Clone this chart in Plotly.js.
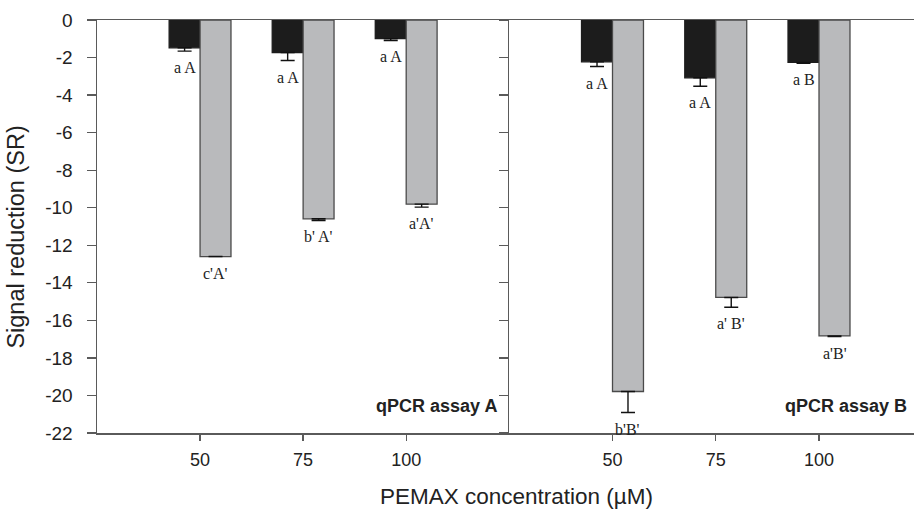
<!DOCTYPE html>
<html>
<head>
<meta charset="utf-8">
<script src="https://cdn.plot.ly/plotly-3.0.1.min.js"></script>
<style>html,body{margin:0;padding:0;background:#fff;}#chart{width:914px;height:514px;}</style>
</head>
<body>
<div id="chart"></div>
<script>
// ---- data ----
const concentrations = ['50', '75', '100'];
// qPCR assay A
const assayA_black = [-1.48, -1.73, -0.99];
const assayA_black_err = [0.18, 0.43, 0.10];
const assayA_gray = [-12.6, -10.59, -9.81];
const assayA_gray_err = [0.0, 0.09, 0.16];
const assayA_black_labels = ['a A', 'a A', 'a A'];
const assayA_gray_labels = ["c'A'", "b' A'", "a'A'"];
// qPCR assay B
const assayB_black = [-2.23, -3.08, -2.26];
const assayB_black_err = [0.25, 0.45, 0.05];
const assayB_gray = [-19.79, -14.78, -16.83];
const assayB_gray_err = [1.12, 0.52, 0.03];
const assayB_black_labels = ['a A', 'a A', 'a B'];
const assayB_gray_labels = ["b'B'", "a' B'", "a'B'"];
const panelLabels = ['qPCR assay A', 'qPCR assay B'];
const yTickVals = [0, -2, -4, -6, -8, -10, -12, -14, -16, -18, -20, -22];
const yTickText = ['0', '-2', '-4', '-6', '-8', '-10', '-12', '-14', '-16', '-18', '-20', '-22'];
const yTitle = 'Signal reduction (SR)';
const xTitle = 'PEMAX concentration (\u00b5M)';

// ---- styling ----
const BLACK = '#1c1c1c';
const GRAY = '#b9babc';
const AXIS = '#5a5a5a';

function barTrace(vals, errs, color, lineColor, xa, ya) {
  return {
    type: 'bar', x: concentrations, y: vals, xaxis: xa, yaxis: ya,
    marker: {color: color, line: {color: lineColor, width: 1.3}},
    error_y: {type: 'data', symmetric: false, array: vals.map(() => 0), arrayminus: errs,
              color: '#111', thickness: 1.4, width: 7},
    showlegend: false, hoverinfo: 'skip'
  };
}

const traces = [
  barTrace(assayA_black, assayA_black_err, BLACK, BLACK, 'x', 'y'),
  barTrace(assayA_gray, assayA_gray_err, GRAY, '#4a4a4a', 'x', 'y'),
  barTrace(assayB_black, assayB_black_err, BLACK, BLACK, 'x2', 'y2'),
  barTrace(assayB_gray, assayB_gray_err, GRAY, '#4a4a4a', 'x2', 'y2')
];

const annotations = [];
function addLabels(vals, errs, labels, xref, yref, shift) {
  vals.forEach((v, i) => {
    annotations.push({
      xref: xref, yref: yref, x: i, y: v - errs[i], xshift: shift, yshift: -6,
      text: labels[i], showarrow: false, xanchor: 'center', yanchor: 'top',
      font: {family: 'Liberation Serif, Times New Roman, serif', size: 16, color: '#222'}
    });
  });
}
addLabels(assayA_black, assayA_black_err, assayA_black_labels, 'x', 'y', -15.5);
addLabels(assayA_gray, assayA_gray_err, assayA_gray_labels, 'x', 'y', 15.5);
addLabels(assayB_black, assayB_black_err, assayB_black_labels, 'x2', 'y2', -15.5);
addLabels(assayB_gray, assayB_gray_err, assayB_gray_labels, 'x2', 'y2', 15.5);

annotations.push({xref: 'x domain', yref: 'y domain', x: 1, y: 0, xanchor: 'right', yanchor: 'middle',
  xshift: -10, yshift: 27, text: '<b>' + panelLabels[0] + '</b>', showarrow: false,
  font: {family: 'Liberation Sans, Arial, sans-serif', size: 18, color: '#222'}});
annotations.push({xref: 'x2 domain', yref: 'y2 domain', x: 1, y: 0, xanchor: 'right', yanchor: 'middle',
  xshift: -5, yshift: 27, text: '<b>' + panelLabels[1] + '</b>', showarrow: false,
  font: {family: 'Liberation Sans, Arial, sans-serif', size: 18, color: '#222'}});
annotations.push({xref: 'paper', yref: 'paper', x: -0.0996, y: 0.4746, xanchor: 'center', yanchor: 'middle',
  textangle: -90, text: yTitle, showarrow: false,
  font: {family: 'Liberation Sans, Arial, sans-serif', size: 23.5, color: '#222'}});
annotations.push({xref: 'paper', yref: 'paper', x: 0.513, y: -0.1534, xanchor: 'center', yanchor: 'middle',
  text: xTitle, showarrow: false,
  font: {family: 'Liberation Sans, Arial, sans-serif', size: 22.5, color: '#222'}});

const tickFont = {family: 'Liberation Sans, Arial, sans-serif', size: 18, color: '#222'};
const xCommon = {
  type: 'category', showline: true, linecolor: AXIS, linewidth: 1.5, mirror: true,
  ticks: 'outside', ticklen: 6, tickwidth: 1.3, tickcolor: AXIS, tickfont: tickFont,
  showgrid: false, zeroline: false, fixedrange: true, ticklabelstandoff: 4
};
const yCommon = {
  range: [-22, 0], tickmode: 'array', tickvals: yTickVals, ticktext: yTickText,
  showline: true, linecolor: AXIS, linewidth: 1.5,
  ticks: 'outside', ticklen: 9, tickwidth: 1.3, tickcolor: AXIS, tickfont: tickFont,
  showgrid: false, zeroline: false, fixedrange: true
};

const split = (509 - 96.5) / 817.5;
const layout = {
  width: 914, height: 514,
  margin: {l: 96.5, r: 0, t: 19.5, b: 80.5},
  paper_bgcolor: '#fff', plot_bgcolor: '#fff',
  barmode: 'group', bargap: 0.4, bargroupgap: 0,
  xaxis: Object.assign({}, xCommon, {domain: [0, split], range: [-1, 3], anchor: 'y'}),
  xaxis2: Object.assign({}, xCommon, {domain: [split, 1], range: [-1, 2.92], anchor: 'y2'}),
  yaxis: Object.assign({}, yCommon, {anchor: 'x', ticklabelstandoff: 10,
                                     tickfont: Object.assign({}, tickFont, {size: 19})}),
  yaxis2: Object.assign({}, yCommon, {anchor: 'x2', showticklabels: false}),
  annotations: annotations,
  showlegend: false
};

Plotly.newPlot('chart', traces, layout, {displayModeBar: false, staticPlot: true});
</script>
</body>
</html>
